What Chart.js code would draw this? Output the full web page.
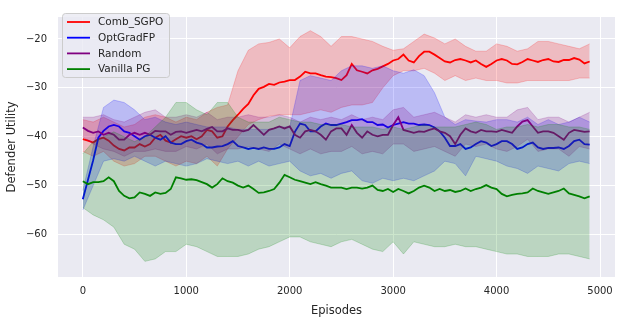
<!DOCTYPE html>
<html>
<head>
<meta charset="utf-8">
<script src="https://cdn.jsdelivr.net/npm/chart.js@4.4.1/dist/chart.umd.min.js"></script>
<style>
    html, body { margin: 0; padding: 0; background: #ffffff; }
    #wrap { width: 622px; height: 322px; position: relative; }
</style>
</head>
<body>
<div id="wrap"><canvas id="chart"></canvas></div>
<script>
// x values of the mean curves (every 50 episodes)
const episodes = [0, 50, 100, 150, 200, 250, 300, 350, 400, 450,
    500, 550, 600, 650, 700, 750, 800, 850, 900, 950,
    1000, 1050, 1100, 1150, 1200, 1250, 1300, 1350, 1400, 1450,
    1500, 1550, 1600, 1650, 1700, 1750, 1800, 1850, 1900, 1950,
    2000, 2050, 2100, 2150, 2200, 2250, 2300, 2350, 2400, 2450,
    2500, 2550, 2600, 2650, 2700, 2750, 2800, 2850, 2900, 2950,
    3000, 3050, 3100, 3150, 3200, 3250, 3300, 3350, 3400, 3450,
    3500, 3550, 3600, 3650, 3700, 3750, 3800, 3850, 3900, 3950,
    4000, 4050, 4100, 4150, 4200, 4250, 4300, 4350, 4400, 4450,
    4500, 4550, 4600, 4650, 4700, 4750, 4800, 4850, 4900];

// x values of the shaded bands (every 100 episodes)
const bandEpisodes = [0, 100, 200, 300, 400, 500, 600, 700, 800, 900,
    1000, 1100, 1200, 1300, 1400, 1500, 1600, 1700, 1800, 1900,
    2000, 2100, 2200, 2300, 2400, 2500, 2600, 2700, 2800, 2900,
    3000, 3100, 3200, 3300, 3400, 3500, 3600, 3700, 3800, 3900,
    4000, 4100, 4200, 4300, 4400, 4500, 4600, 4700, 4800, 4900];

const seriesNames = ['Comb_SGPO', 'OptGradFP', 'Random', 'Vanilla PG'];
const xTicks = [0, 1000, 2000, 3000, 4000, 5000];
const yTicks = [-60, -50, -40, -30, -20];

// Comb_SGPO
const combMean = [-40.5, -40.8, -41.2, -40.5, -40.2, -40.8, -41.8, -42.5, -42.8, -42.2,
    -42.2, -41.5, -42, -41.5, -40.2, -39.6, -40.8, -41.2, -40.5, -39.9,
    -40.2, -39.9, -40.5, -39.9, -38.6, -38.9, -40.2, -39.9, -37.9, -36.6,
    -35.5, -34.3, -33.3, -31.5, -30.2, -29.8, -29.2, -29.4, -28.9, -28.7,
    -28.4, -28.4, -27.7, -26.7, -27.05, -27.05, -27.4, -27.7, -27.8, -28,
    -28.4, -27.4, -25.1, -26.4, -26.7, -27.05, -26.4, -26.1, -25.6, -25.1,
    -24.4, -24.1, -23.2, -24.4, -24.8, -23.5, -22.6, -22.6, -23.2, -23.9,
    -24.6, -24.8, -24.3, -24.1, -24.4, -24.8, -24.4, -25.1, -25.7, -25.1,
    -24.4, -24.1, -24.4, -25.1, -25.2, -24.7, -24.1, -24.4, -24.7, -24.3,
    -24.1, -24.6, -24.7, -24.3, -24.3, -23.9, -24.2, -25, -24.6];
const combHigh = [-36.5, -37, -36, -37, -38, -37.5, -36, -35.5, -36, -37,
    -36, -36.5, -35, -34, -33.5, -26.5, -22.3, -21, -20.7, -20,
    -21.8, -19.5, -18.3, -19.5, -21.5, -19.5, -19.5, -20, -20.5, -21.5,
    -22.3, -22, -20.5, -19, -19.8, -21, -20, -21.5, -22.5, -22.5,
    -21, -21.5, -22.5, -22, -20.5, -20.5, -21, -21.5, -22, -21];
const combLow = [-43, -44, -43, -45, -46, -45.5, -44, -44, -45, -46,
    -45, -45.5, -44, -46, -42.5, -40, -37.5, -36.5, -35.8, -35.5,
    -35.5, -35.5, -35, -34.5, -35, -34, -33.5, -33.5, -33, -30,
    -27.5, -26.5, -26.5, -26, -27, -28.5, -27.5, -28.5, -28, -28.5,
    -28.5, -29, -29, -28.5, -28.5, -28.5, -28.5, -28.5, -28, -28];

// OptGradFP
const optMean = [-52.8, -48.8, -44.8, -40.2, -38.8, -37.9, -37.6, -37.9, -38.9, -39.2,
    -39.9, -40.6, -39.9, -39.6, -40.2, -40.6, -39.9, -41.2, -41.5, -41.5,
    -40.9, -40.6, -41.2, -41.5, -42.2, -42.2, -42, -41.9, -41.5, -40.9,
    -41.9, -42.2, -42.5, -42.3, -42.5, -42.2, -42.5, -42.5, -42.2, -41.5,
    -41.9, -39, -37.3, -37.6, -38.9, -38.9, -37.9, -37.3, -37.6, -37.6,
    -37.3, -37, -36.6, -36.6, -36.4, -37, -37, -37.6, -37.5, -38.1,
    -37.6, -37.3, -37, -37.3, -37.3, -37.6, -37.5, -37.6, -38.1, -38.9,
    -40.2, -41.9, -41.9, -41.5, -42.5, -42.2, -41.5, -40.9, -41.2, -41.9,
    -41.5, -40.9, -40.9, -41.5, -42.5, -42.2, -41.5, -41.2, -42.2, -42.5,
    -42.3, -42.3, -42.2, -42.5, -41.9, -40.9, -40.6, -41.5, -41.6];
const optHigh = [-51, -42, -34, -32.5, -33, -34.5, -36.5, -36, -37, -37.5,
    -37, -37.5, -38, -38, -38, -38.5, -38.5, -38.5, -38.5, -38,
    -38, -28.5, -27.5, -28, -28.5, -26.5, -25.5, -25.5, -26, -25.5,
    -26.5, -27, -26.3, -27.5, -31, -36, -37.5, -36.5, -36.8, -37,
    -36.5, -36.5, -37, -36, -37.5, -36.5, -37.5, -37, -36, -37];
const optLow = [-55, -50, -45, -44.5, -45, -44, -45, -46, -45, -45.5,
    -46, -45.5, -44.5, -45, -45.5, -45, -46, -45, -46, -45.5,
    -45, -47, -48, -47.5, -48.5, -47.5, -47, -49, -49.5, -48.5,
    -49, -48.5, -49, -48, -47, -45, -45.5, -48, -44, -44.5,
    -45, -46, -46.5, -47.5, -46, -46.5, -47, -45.5, -45, -45.5];

// Random
const randMean = [-38.1, -38.8, -39.2, -38.9, -39.6, -39.2, -39.6, -40.6, -40.6, -39.6,
    -39.2, -39.6, -39.2, -39.6, -38.8, -38.9, -38.9, -39.6, -39, -38.9,
    -39.2, -38.9, -38.6, -38.9, -38.4, -38, -38.9, -38.9, -38.3, -38.6,
    -38.6, -38.9, -38.6, -37.6, -38.6, -39.6, -38.6, -38.3, -37.9, -38.3,
    -37.9, -39.6, -40.2, -38.9, -38.6, -38.9, -39.6, -40.6, -38.9, -38.3,
    -38.3, -39.6, -37.6, -39.2, -40.2, -38.9, -39.6, -39.9, -39.6, -39.6,
    -37.6, -36, -38.6, -38.9, -39.2, -38.9, -39, -38.6, -38.3, -38.9,
    -39.2, -39.9, -41.5, -39.6, -38.3, -38.9, -39.2, -38.6, -38.9, -38.9,
    -39, -38.6, -38.9, -39.2, -37.9, -36.9, -36.6, -37.9, -39.2, -38.9,
    -38.9, -39.2, -39.9, -40.6, -39.2, -38.6, -38.8, -39, -38.9];
const randHigh = [-36, -36, -35.5, -36.5, -37, -36, -35, -34.5, -36, -36,
    -35.5, -36, -35, -36.5, -36, -36, -35.5, -36, -36, -35.5,
    -36, -37, -36, -36.5, -36, -36.5, -35.5, -36.5, -36, -36.5,
    -34.5, -34, -36, -35.5, -35, -36, -37, -35.5, -36, -35.5,
    -36, -36, -34.5, -34, -36.5, -36, -36, -37, -36, -35];
const randLow = [-40, -41.5, -42.5, -43, -44, -43, -43, -42.5, -43, -43,
    -42, -42.5, -41.5, -43.5, -42.5, -42.5, -42, -42.5, -43, -41.5,
    -42.5, -43.5, -42.5, -43.5, -43, -43, -42, -43.5, -43, -43.5,
    -41.5, -41.5, -43, -42.5, -42, -43, -44, -41.5, -42, -41.5,
    -42.5, -43, -42, -40.5, -43, -42.5, -42.5, -44, -42, -42.5];

// Vanilla PG
const vanMean = [-49.1, -49.7, -49.3, -49.3, -49.1, -48.3, -49.1, -51.1, -52.1, -52.6,
    -52.4, -51.4, -51.7, -52.1, -51.4, -51.7, -51.5, -50.7, -48.3, -48.5,
    -48.8, -48.7, -48.9, -49.3, -49.7, -50.4, -49.7, -48.5, -49.1, -49.4,
    -50, -50.4, -50, -50.7, -51.5, -51.4, -51.1, -50.7, -49.4, -47.8,
    -48.3, -48.8, -49.1, -49.4, -49.7, -49.3, -49.7, -50, -50.4, -50.4,
    -50.4, -50.7, -50.4, -50.4, -50.6, -50.4, -50, -50.9, -51.1, -50.7,
    -51.3, -50.7, -51.1, -51.6, -51.1, -50.4, -50, -50.4, -51.1, -50.7,
    -51.1, -50.9, -51.3, -51.1, -50.6, -51.1, -50.7, -50.4, -49.9, -50.4,
    -50.7, -51.7, -52.2, -51.9, -51.7, -51.6, -51.4, -50.6, -51.1, -51.4,
    -51.7, -51.4, -51.1, -50.6, -51.6, -51.9, -52.2, -52.6, -52.2];
const vanHigh = [-43.5, -41, -40, -39, -40, -41, -40, -38, -36, -33,
    -33, -34.5, -35.5, -33, -33, -36, -37, -37, -37, -36,
    -36.5, -37, -37, -37.5, -37.5, -37.5, -38, -38, -38, -38.5,
    -38, -38.5, -38, -37.5, -38, -38, -38, -37.5, -37, -37.5,
    -38.5, -38, -38, -37.5, -38, -37.5, -37.5, -38, -38, -38.5];
const vanLow = [-54.5, -56, -57, -58.5, -62, -63, -65.5, -65, -63.5, -63.5,
    -62, -62.5, -63.5, -64.5, -64.5, -64.5, -64, -63, -62.5, -61.5,
    -60.5, -60.5, -61.5, -62, -62.5, -61.5, -61, -62, -63, -63.5,
    -61.5, -64, -61.5, -62, -62.5, -62.5, -62, -62.5, -62.5, -63,
    -63.5, -64, -64, -64.5, -64.5, -64.5, -64, -64, -64.5, -65];

const COLORS = [
    [255, 0, 0],    // red
    [0, 0, 255],    // blue
    [128, 0, 128],  // purple
    [0, 128, 0]     // green
];
const TEXT = '#262626';
const FONT = "'DejaVu Sans', sans-serif";

const rgba = (c, a) => `rgba(${c[0]}, ${c[1]}, ${c[2]}, ${a})`;
const pts = (xs, arr) => arr.map((v, i) => ({ x: xs[i], y: v }));

const groups = [
    [combMean, combHigh, combLow],
    [optMean, optHigh, optLow],
    [randMean, randHigh, randLow],
    [vanMean, vanHigh, vanLow]
];

// matplotlib order: line, then band, series after series (later on top)
const datasets = [];
groups.forEach((g, s) => {
    const c = COLORS[s];
    const base = (4 - s) * 2;
    datasets.push({
        label: seriesNames[s],
        data: pts(episodes, g[0]),
        borderColor: rgba(c, 1),
        borderWidth: 1.8,
        fill: false,
        order: base,
        isMean: true
    });
    datasets.push({
        label: seriesNames[s] + ' hi',
        data: pts(bandEpisodes, g[1]),
        borderColor: rgba(c, 0.2),
        borderWidth: 1,
        backgroundColor: rgba(c, 0.2),
        fill: '+1',
        order: base - 1
    });
    datasets.push({
        label: seriesNames[s] + ' lo',
        data: pts(bandEpisodes, g[2]),
        borderColor: rgba(c, 0.2),
        borderWidth: 1,
        fill: false,
        order: base - 1
    });
});

const plotBg = {
    id: 'plotBg',
    beforeDraw(chart) {
        const { ctx, chartArea: a } = chart;
        ctx.save();
        ctx.fillStyle = '#EAEAF2';
        ctx.fillRect(a.left, a.top, a.right - a.left, a.bottom - a.top);
        ctx.restore();
    }
};

// legend box inside the axes, upper left
const boxLegend = {
    id: 'boxLegend',
    afterDraw(chart) {
        const ctx = chart.ctx;
        const x = 62.5, y = 13.5, w = 107, h = 64, r = 3;
        ctx.save();
        ctx.beginPath();
        ctx.moveTo(x + r, y);
        ctx.arcTo(x + w, y, x + w, y + h, r);
        ctx.arcTo(x + w, y + h, x, y + h, r);
        ctx.arcTo(x, y + h, x, y, r);
        ctx.arcTo(x, y, x + w, y, r);
        ctx.closePath();
        ctx.fillStyle = 'rgba(234, 234, 242, 0.8)';
        ctx.fill();
        ctx.strokeStyle = '#cccccc';
        ctx.lineWidth = 1;
        ctx.stroke();

        ctx.font = '10.5px ' + FONT;
        ctx.textBaseline = 'middle';
        ctx.textAlign = 'left';
        const means = chart.data.datasets.filter(d => d.isMean);
        means.forEach((d, i) => {
            const cy = 22 + i * 15.7;
            ctx.strokeStyle = d.borderColor;
            ctx.lineWidth = 1.8;
            ctx.beginPath();
            ctx.moveTo(67, cy);
            ctx.lineTo(90, cy);
            ctx.stroke();
            ctx.fillStyle = TEXT;
            ctx.fillText(d.label, 98, cy + 0.5);
        });
        ctx.restore();
    }
};

new Chart(document.getElementById('chart'), {
    type: 'line',
    data: { datasets },
    options: {
        responsive: true,
        maintainAspectRatio: false,
        animation: false,
        devicePixelRatio: 1,
        layout: { padding: { left: 0, right: 7, top: 8, bottom: 0 } },
        elements: {
            point: { radius: 0, hoverRadius: 0 },
            line: { tension: 0 }
        },
        plugins: {
            legend: { display: false },
            tooltip: { enabled: false },
            filler: { propagate: false }
        },
        scales: {
            x: {
                type: 'linear',
                min: -240,
                max: 5145,
                afterBuildTicks: s => { s.ticks = xTicks.map(v => ({ value: v })); },
                afterFit: s => { s.height = 45; },
                grid: { color: '#ffffff', lineWidth: 1, drawTicks: false },
                border: { display: false },
                ticks: {
                    color: TEXT,
                    padding: 8,
                    maxRotation: 0,
                    font: { family: FONT, size: 10 },
                    callback: v => String(v)
                },
                title: {
                    display: true,
                    text: 'Episodes',
                    color: TEXT,
                    padding: { top: 0, bottom: 4 },
                    font: { family: FONT, size: 11.5 }
                }
            },
            y: {
                min: -68.7,
                max: -15.5,
                afterBuildTicks: s => { s.ticks = yTicks.map(v => ({ value: v })); },
                afterFit: s => { s.width = 58; },
                grid: { color: '#ffffff', lineWidth: 1, drawTicks: false },
                border: { display: false },
                ticks: {
                    color: TEXT,
                    padding: 11,
                    font: { family: FONT, size: 10 },
                    callback: v => (v < 0 ? '\u2212' : '') + Math.abs(v)
                },
                title: {
                    display: true,
                    text: 'Defender Utility',
                    color: TEXT,
                    padding: { top: 5, bottom: 0 },
                    font: { family: FONT, size: 11.5 }
                }
            }
        }
    },
    plugins: [plotBg, boxLegend]
});
</script>
</body>
</html>
